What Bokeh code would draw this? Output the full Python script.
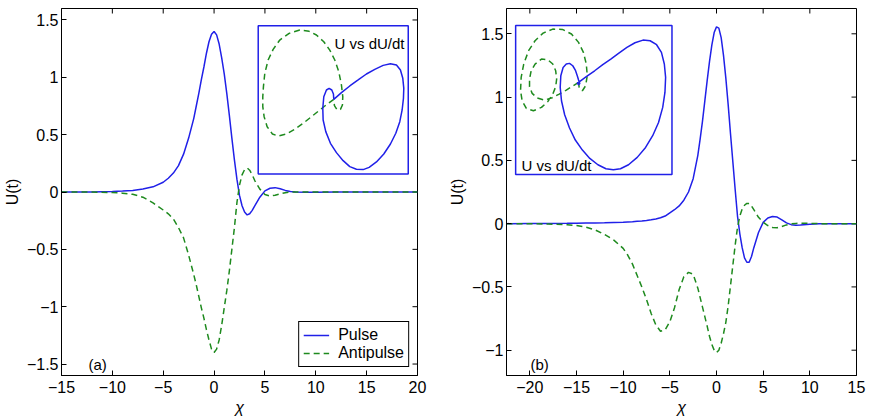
from bokeh.plotting import figure
from bokeh.models import FixedTicker, Label, BoxAnnotation, Range1d
from bokeh.layouts import row
from bokeh.embed import file_html
from bokeh.resources import INLINE

# ---------------- data: panel (a) ----------------
a_chi = [-15, -12, -10, -9, -8, -7, -6, -5, -4.5, -4, -3.5, -3, -2.5, -2, -1.75, -1.5, -1.25, -1,
         -0.75, -0.5, -0.25, 0, 0.25, 0.5, 0.75, 1, 1.25, 1.5, 1.75, 2, 2.25, 2.5, 2.75, 3, 3.25,
         3.5, 3.75, 4, 4.5, 5, 5.5, 6, 6.5, 7, 7.5, 8, 9, 10, 12, 15, 20]
a_pulse = [0, 0.001, 0.004, 0.008, 0.014, 0.026, 0.045, 0.085, 0.12, 0.165, 0.23, 0.33, 0.47, 0.64,
           0.75, 0.86, 0.98, 1.09, 1.21, 1.31, 1.375, 1.40, 1.37, 1.29, 1.17, 1.03, 0.86, 0.67,
           0.47, 0.28, 0.11, -0.03, -0.12, -0.175, -0.20, -0.19, -0.16, -0.12, -0.045, 0.01,
           0.033, 0.038, 0.028, 0.014, 0.004, 0.0, -0.003, -0.002, 0, 0, 0]
a_antipulse = [0, -0.001, -0.005, -0.01, -0.02, -0.045, -0.095, -0.157, -0.19, -0.235, -0.31, -0.40,
               -0.55, -0.72, -0.81, -0.91, -1.01, -1.10, -1.20, -1.29, -1.37, -1.40, -1.37, -1.29,
               -1.16, -1.01, -0.86, -0.69, -0.50, -0.31, -0.09, 0.06, 0.15, 0.195, 0.21, 0.19, 0.15,
               0.10, 0.025, -0.022, -0.035, -0.028, -0.016, -0.006, -0.001, 0, 0.001, 0, 0, 0, 0]

# inset (a): U vs dU/dt phase curves
a_ins_pulse_u = [0, 0.153, 0.32, 0.487, 0.653, 0.82, 0.987, 1.133, 1.253, 1.333, 1.38, 1.40, 1.393,
                 1.367, 1.32, 1.24, 1.133, 1.0, 0.853, 0.707, 0.587, 0.453, 0.32, 0.187, 0.053,
                 -0.067, -0.16, -0.213, -0.22, -0.20, -0.147, -0.093, -0.04, -0.007, 0]
a_ins_pulse_du = [0, 0.076, 0.152, 0.220, 0.288, 0.341, 0.386, 0.405, 0.390, 0.333, 0.239, 0.125,
                  0.011, -0.121, -0.254, -0.386, -0.508, -0.621, -0.712, -0.773, -0.799, -0.795,
                  -0.765, -0.697, -0.606, -0.5, -0.367, -0.235, -0.102, 0.03, 0.106, 0.125, 0.106,
                  0.061, 0]
a_ins_anti_u = [0, -0.147, -0.28, -0.447, -0.613, -0.78, -0.947, -1.113, -1.227, -1.333, -1.393,
                -1.42, -1.42, -1.407, -1.38, -1.313, -1.213, -1.08, -0.893, -0.68, -0.493, -0.347,
                -0.20, -0.08, 0.02, 0.10, 0.153, 0.18, 0.173, 0.133, 0.067, 0.013, 0]
a_ins_anti_du = [0, -0.061, -0.121, -0.197, -0.273, -0.341, -0.394, -0.417, -0.394, -0.311, -0.197,
                 -0.083, 0.03, 0.144, 0.295, 0.447, 0.568, 0.674, 0.75, 0.788, 0.773, 0.731, 0.655,
                 0.56, 0.447, 0.314, 0.163, 0.03, -0.064, -0.114, -0.121, -0.072, 0]

# ---------------- data: panel (b) ----------------
b_chi = [-22.5, -20, -18, -16, -15, -14, -13, -12, -11, -10, -9.5, -9, -8.5, -8, -7.5, -7, -6.5, -6,
         -5.5, -5, -4.5, -4, -3.5, -3, -2.5, -2, -1.75, -1.5, -1.25, -1, -0.75, -0.5, -0.25, 0,
         0.25, 0.5, 0.75, 1, 1.25, 1.5, 1.75, 2, 2.25, 2.5, 2.75, 3, 3.25, 3.5, 3.75, 4, 4.5, 5,
         5.5, 6, 6.5, 7, 7.5, 8, 8.5, 9, 10, 11, 12, 15]
b_pulse = [0, 0.001, 0.002, 0.003, 0.004, 0.005, 0.006, 0.007, 0.009, 0.011, 0.013, 0.015, 0.018,
           0.021, 0.025, 0.03, 0.037, 0.047, 0.06, 0.085, 0.11, 0.14, 0.185, 0.25, 0.355, 0.54,
           0.67, 0.81, 0.97, 1.13, 1.28, 1.41, 1.51, 1.555, 1.545, 1.47, 1.33, 1.15, 0.94, 0.71,
           0.49, 0.27, 0.06, -0.08, -0.19, -0.27, -0.305, -0.305, -0.26, -0.19, -0.07, 0.01,
           0.045, 0.057, 0.052, 0.03, 0.006, -0.008, -0.012, -0.01, -0.004, 0, 0, 0]
b_antipulse = [0, -0.001, -0.003, -0.009, -0.015, -0.028, -0.05, -0.085, -0.13, -0.195, -0.25, -0.32,
               -0.41, -0.50, -0.60, -0.71, -0.80, -0.85, -0.84, -0.775, -0.665, -0.52, -0.42,
               -0.385, -0.40, -0.51, -0.585, -0.66, -0.735, -0.81, -0.89, -0.955, -1.0, -1.02,
               -1.0, -0.945, -0.87, -0.78, -0.65, -0.49, -0.33, -0.17, -0.03, 0.06, 0.115, 0.145,
               0.16, 0.16, 0.14, 0.11, 0.05, 0.01, -0.015, -0.03, -0.032, -0.022, -0.01, -0.002,
               0.002, 0.003, 0.002, 0, 0, 0]

# inset (b): U vs dU/dt phase curves
b_ins_pulse_u = [0, 0.145, 0.289, 0.434, 0.578, 0.723, 0.867, 1.012, 1.156, 1.283, 1.399, 1.486,
                 1.538, 1.561, 1.549, 1.509, 1.434, 1.329, 1.202, 1.052, 0.896, 0.751, 0.624,
                 0.491, 0.347, 0.202, 0.069, -0.058, -0.162, -0.249, -0.306, -0.329, -0.318,
                 -0.277, -0.22, -0.162, -0.104, -0.058, -0.023, 0.0, 0.023, 0.0, -0.023, 0]
b_ins_pulse_du = [0, 0.063, 0.123, 0.187, 0.246, 0.31, 0.37, 0.419, 0.447, 0.44, 0.398, 0.317,
                  0.194, 0.053, -0.106, -0.264, -0.423, -0.563, -0.687, -0.792, -0.87, -0.912,
                  -0.923, -0.912, -0.87, -0.803, -0.715, -0.609, -0.482, -0.342, -0.194, -0.053,
                  0.07, 0.158, 0.194, 0.201, 0.176, 0.13, 0.07, 0.025, -0.011, -0.025, -0.004, 0]
b_ins_anti_u = [0, -0.104, -0.22, -0.347, -0.474, -0.607, -0.74, -0.832, -0.879, -0.879, -0.85,
                -0.78, -0.665, -0.549, -0.462, -0.41, -0.393, -0.41, -0.462, -0.549, -0.665,
                -0.809, -0.936, -1.012, -1.04, -1.029, -0.983, -0.896, -0.78, -0.636, -0.462,
                -0.289, -0.127, 0.0, 0.087, 0.139, 0.156, 0.127, 0.069, 0.012, 0]
b_ins_anti_du = [0, -0.039, -0.081, -0.123, -0.162, -0.187, -0.165, -0.116, -0.046, 0.035, 0.123,
                 0.194, 0.246, 0.239, 0.194, 0.123, 0.035, -0.046, -0.123, -0.201, -0.264, -0.299,
                 -0.275, -0.194, -0.088, 0.053, 0.194, 0.335, 0.44, 0.521, 0.563, 0.56, 0.511,
                 0.423, 0.317, 0.194, 0.07, -0.035, -0.088, -0.06, 0]

# ---------------- ticks ----------------
a_xticks = [-15, -10, -5, 0, 5, 10, 15, 20]
a_xlabels = ["\u221215", "\u221210", "\u22125", "0", "5", "10", "15", "20"]
a_yticks = [-1.5, -1, -0.5, 0, 0.5, 1, 1.5]
a_ylabels = ["\u22121.5", "\u22121", "\u22120.5", "0", "0.5", "1", "1.5"]
b_xticks = [-20, -15, -10, -5, 0, 5, 10, 15]
b_xlabels = ["\u221220", "\u221215", "\u221210", "\u22125", "0", "5", "10", "15"]
b_yticks = [-1, -0.5, 0, 0.5, 1, 1.5]
b_ylabels = ["\u22121", "\u22120.5", "0", "0.5", "1", "1.5"]

BLUE = "#2020e8"
GREEN = "#1e8a1e"
FONT = "Liberation Sans"
FS = "15px"
TICK_FS = "16px"
FRAME_H = 367
TICK_LEN = 5


def style_axis(ax, ticks, labels):
    ax.ticker = FixedTicker(ticks=ticks)
    ax.major_tick_in = TICK_LEN
    ax.major_tick_out = 0
    ax.minor_tick_in = 0
    ax.minor_tick_out = 0
    ax.axis_line_color = "black"
    ax.major_tick_line_color = "black"
    ax.major_label_overrides = {t: l for t, l in zip(ticks, labels)}
    ax.major_label_text_font = FONT
    ax.major_label_text_font_size = TICK_FS
    ax.major_label_text_color = "black"
    ax.major_label_standoff = 3
    ax.axis_label_text_font = FONT
    ax.axis_label_text_font_size = TICK_FS
    ax.axis_label_text_color = "black"


def make_panel(xr, yr, xt, xl, yt, yl, frame_w, left_border, right_border):
    p = figure(frame_width=frame_w, frame_height=FRAME_H, x_range=Range1d(*xr),
               y_range=Range1d(*yr), output_backend="svg", toolbar_location=None,
               min_border_left=left_border, min_border_right=right_border,
               min_border_top=8, min_border_bottom=34)
    p.xgrid.visible = False
    p.ygrid.visible = False
    p.outline_line_color = "black"
    p.outline_line_alpha = 1
    p.background_fill_color = "white"
    p.border_fill_color = "white"
    style_axis(p.xaxis[0], xt, xl)
    style_axis(p.yaxis[0], yt, yl)
    p.xaxis[0].axis_label = "\u03c7"
    p.xaxis[0].axis_label_text_font_style = "italic"
    p.xaxis[0].axis_label_standoff = 3
    p.xaxis[0].major_label_standoff = 5
    p.yaxis[0].axis_label = "U(t)"
    p.yaxis[0].axis_label_text_font_style = "normal"
    p.yaxis[0].axis_label_standoff = 3
    # inward ticks on the top and right edges of the frame
    dy = TICK_LEN * (yr[1] - yr[0]) / FRAME_H
    dx = TICK_LEN * (xr[1] - xr[0]) / frame_w
    p.segment(x0=xt, x1=xt, y0=[yr[1]] * len(xt), y1=[yr[1] - dy] * len(xt),
              line_color="black", line_width=1)
    p.segment(x0=[xr[1]] * len(yt), x1=[xr[1] - dx] * len(yt), y0=yt, y1=yt,
              line_color="black", line_width=1)
    return p


def inset(p, box, center, sx, sy, pu, pdu, au, adu):
    p.add_layout(BoxAnnotation(left=box[0], right=box[1], bottom=box[2], top=box[3],
                               fill_alpha=0, line_color=BLUE, line_alpha=1, line_width=1.5))
    p.line([center[0] + u * sx for u in au], [center[1] + d * sy for d in adu],
           line_color=GREEN, line_width=1.5, line_dash="6 4")
    p.line([center[0] + u * sx for u in pu], [center[1] + d * sy for d in pdu],
           line_color=BLUE, line_width=1.5)


# ---------------- panel (a) ----------------
p1 = make_panel((-15, 20), (-1.6, 1.6), a_xticks, a_xlabels, a_yticks, a_ylabels, 356, 57, 27)
p1.line(a_chi, a_pulse, line_color=BLUE, line_width=1.5, legend_label="Pulse")
p1.line(a_chi, a_antipulse, line_color=GREEN, line_width=1.5, line_dash="6 4",
        legend_label="Antipulse")
inset(p1, (4.34, 19.09, 0.157, 1.45), (11.77, 0.808), 4.916, 0.767,
      a_ins_pulse_u, a_ins_pulse_du, a_ins_anti_u, a_ins_anti_du)
p1.add_layout(Label(x=343, y=332, x_units="screen", y_units="screen", text="U vs dU/dt",
                    text_align="right", text_baseline="alphabetic", text_font=FONT,
                    text_font_size=FS, text_color="black"))
p1.add_layout(Label(x=27, y=3, x_units="screen", y_units="screen", text="(a)",
                    text_align="left", text_baseline="bottom", text_font=FONT,
                    text_font_size=FS, text_color="black"))
lg = p1.legend[0]
lg.location = "bottom_right"
lg.margin = 8
lg.padding = 4
lg.spacing = 0
lg.label_text_font = FONT
lg.label_text_font_size = TICK_FS
lg.label_text_color = "black"
lg.glyph_width = 26
lg.glyph_height = 16
lg.label_height = 16
lg.label_standoff = 9
lg.border_line_color = "black"
lg.border_line_width = 1
lg.border_line_alpha = 1

# ---------------- panel (b) ----------------
p2 = make_panel((-22.5, 15), (-1.2, 1.7), b_xticks, b_xlabels, b_yticks, b_ylabels, 350, 62, 10)
p2.line(b_chi, b_pulse, line_color=BLUE, line_width=1.5)
p2.line(b_chi, b_antipulse, line_color=GREEN, line_width=1.5, line_dash="6 4")
inset(p2, (-21.52, -4.77, 0.388, 1.565), (-14.78, 1.116), 6.078 * 350 / 356, 0.748,
      b_ins_pulse_u, b_ins_pulse_du, b_ins_anti_u, b_ins_anti_du)
p2.add_layout(Label(x=15, y=210, x_units="screen", y_units="screen", text="U vs dU/dt",
                    text_align="left", text_baseline="alphabetic", text_font=FONT,
                    text_font_size=FS, text_color="black"))
p2.add_layout(Label(x=24, y=3, x_units="screen", y_units="screen", text="(b)",
                    text_align="left", text_baseline="bottom", text_font=FONT,
                    text_font_size=FS, text_color="black"))

layout = row(p1, p2, spacing=0)
open("out.html", "w").write(file_html(layout, INLINE))
